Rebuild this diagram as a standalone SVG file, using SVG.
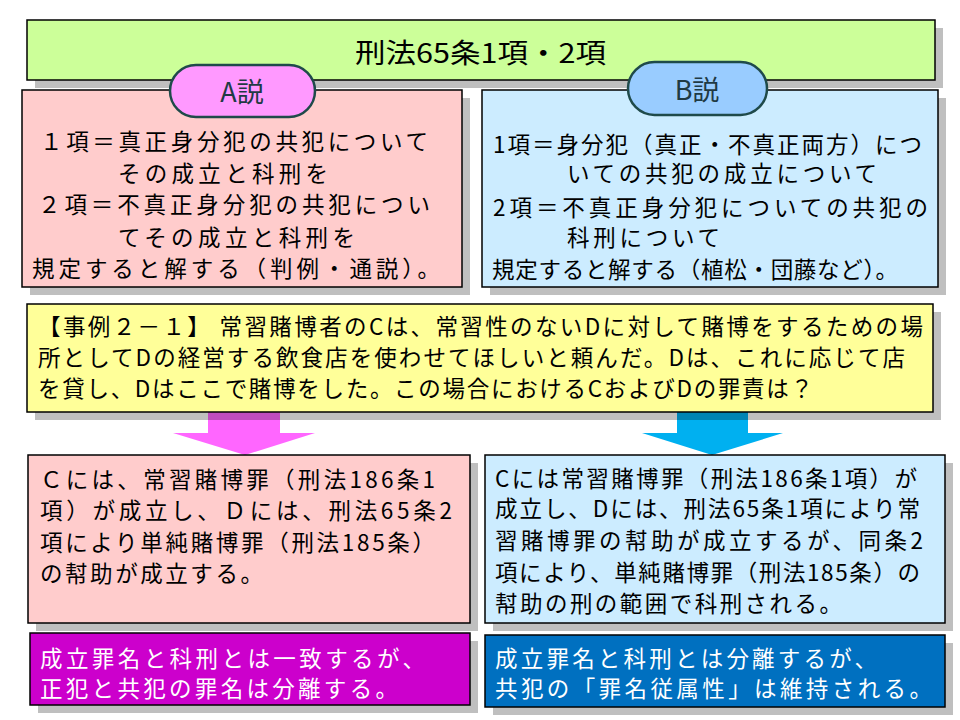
<svg xmlns="http://www.w3.org/2000/svg" width="960" height="720" viewBox="0 0 960 720">
<style>
text{font-family:"Noto Sans CJK JP","Noto Sans",sans-serif;fill:#000;}
.b{font-size:22.5px;}
.w{fill:#fff;}
.sh{fill:#000;fill-opacity:0.25;}
.box{stroke:#000;stroke-width:1.5;}
.pill{stroke:#1F4A4A;stroke-width:2.5;}
.pt{font-size:27px;fill:#1F3A44;text-anchor:middle;}
</style>
<rect width="960" height="720" fill="#fff"/>
<g id="connectors">
<polygon points="208,412 280,412 280,433 315,433 245,455 173,433 208,433" fill="#FF66FF"/>
<polygon points="677,412 748,412 748,433 783,433 712,455 642,433 677,433" fill="#00B0F0"/>
</g>
<g id="title">
<rect class="sh" x="35" y="28" width="908" height="60"/>
<rect class="box" x="27" y="20" width="908" height="60" fill="#CCFF99"/>
<text x="355" y="63" font-size="27" textLength="251" lengthAdjust="spacingAndGlyphs">刑法65条1項・2項</text>
</g>
<g id="boxA">
<rect class="sh" x="30" y="98" width="440" height="197"/>
<rect class="box" x="22" y="90" width="440" height="197" fill="#FFCCCC"/>
<text class="b" x="40" y="150" textLength="388">１項＝真正身分犯の共犯について</text>
<text class="b" x="118" y="182" textLength="210">その成立と科刑を</text>
<text class="b" x="38" y="213" textLength="392">２項＝不真正身分犯の共犯につい</text>
<text class="b" x="118" y="246" textLength="237">てその成立と科刑を</text>
<text class="b" x="32" y="277" textLength="408">規定すると解する（判例・通説）。</text>
</g>
<g id="pillA">
<rect class="pill" x="170" y="65" width="145" height="52" rx="26" fill="#FF99FF"/>
<text class="pt" x="242" y="102">A説</text>
</g>
<g id="boxB">
<rect class="sh" x="490" y="98" width="456" height="197"/>
<rect class="box" x="482" y="90" width="456" height="197" fill="#CCECFF"/>
<text class="b" x="493" y="153" textLength="429">1項＝身分犯（真正・不真正両方）につ</text>
<text class="b" x="567" y="182" textLength="310">いての共犯の成立について</text>
<text class="b" x="493" y="216" textLength="435">2項＝不真正身分犯についての共犯の</text>
<text class="b" x="567" y="246" textLength="153">科刑について</text>
<text class="b" x="492" y="278" textLength="406">規定すると解する（植松・団藤など）。</text>
</g>
<g id="pillB">
<rect class="pill" x="628" y="62" width="139" height="53" rx="26.5" fill="#99CCFF"/>
<text class="pt" x="697" y="100">B説</text>
</g>
<g id="case">
<rect class="sh" x="35" y="312" width="906" height="108"/>
<rect class="box" x="27" y="304" width="906" height="108" fill="#FFFF99"/>
<text class="b" x="38" y="335" textLength="885">【事例２－１】 常習賭博者のCは、常習性のないDに対して賭博をするための場</text>
<text class="b" x="38" y="366" textLength="867">所としてDの経営する飲食店を使わせてほしいと頼んだ。Dは、これに応じて店</text>
<text class="b" x="38" y="397" textLength="775">を貸し、Dはここで賭博をした。この場合におけるCおよびDの罪責は？</text>
</g>
<g id="resultA">
<rect class="sh" x="36" y="463" width="442" height="168"/>
<rect class="box" x="28" y="455" width="442" height="168" fill="#FFCCCC"/>
<text class="b" x="40" y="488" textLength="395">Ｃには、常習賭博罪（刑法186条1</text>
<text class="b" x="40" y="519" textLength="412">項）が成立し、Ｄには、刑法65条2</text>
<text class="b" x="40" y="551" textLength="395">項により単純賭博罪（刑法185条）</text>
<text class="b" x="40" y="582" textLength="223">の幇助が成立する。</text>
</g>
<g id="summaryA">
<rect class="sh" x="38" y="641" width="440" height="72"/>
<rect class="box" x="30" y="633" width="440" height="72" fill="#CC00CC"/>
<text class="b w" x="40" y="667" textLength="385">成立罪名と科刑とは一致するが、</text>
<text class="b w" x="40" y="697" textLength="358">正犯と共犯の罪名は分離する。</text>
</g>
<g id="resultB">
<rect class="sh" x="493" y="463" width="460" height="168"/>
<rect class="box" x="485" y="455" width="460" height="168" fill="#CCECFF"/>
<text class="b" x="495" y="487" textLength="422">Cには常習賭博罪（刑法186条1項）が</text>
<text class="b" x="495" y="517" textLength="425">成立し、Dには、刑法65条1項により常</text>
<text class="b" x="495" y="549" textLength="428">習賭博罪の幇助が成立するが、同条2</text>
<text class="b" x="495" y="581" textLength="425">項により、単純賭博罪（刑法185条）の</text>
<text class="b" x="495" y="612" textLength="347">幇助の刑の範囲で科刑される。</text>
</g>
<g id="summaryB">
<rect class="sh" x="493" y="643" width="460" height="72"/>
<rect class="box" x="485" y="635" width="460" height="72" fill="#0070C0"/>
<text class="b w" x="495" y="667" textLength="382">成立罪名と科刑とは分離するが、</text>
<text class="b w" x="495" y="697" textLength="437">共犯の「罪名従属性」は維持される。</text>
</g>
</svg>
